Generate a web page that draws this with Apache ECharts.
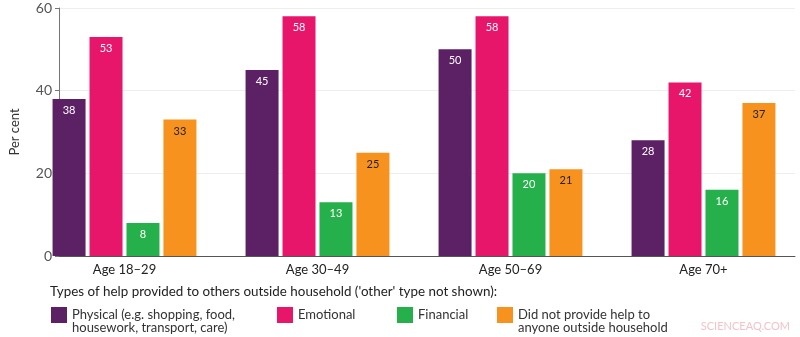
<!DOCTYPE html>
<html><head><meta charset="utf-8">
<script src="https://cdn.jsdelivr.net/npm/echarts@6/dist/echarts.min.js"></script>
<style>html,body{margin:0;padding:0;background:#fff}#c{width:800px;height:337px}</style>
</head><body><div id="c"></div>
<script>
const categories = ['Age 18–29', 'Age 30–49', 'Age 50–69', 'Age 70+'];
const physical = [38, 45, 50, 28];
const emotional = [53, 58, 58, 42];
const financial = [8, 13, 20, 16];
const noHelp = [33, 25, 21, 37];
const yTicks = [0, 20, 40, 60];
const seriesNames = ['Physical (e.g. shopping, food,', 'Emotional', 'Financial', 'Did not provide help to'];
const secondLines = ['housework, transport, care)', '', '', 'anyone outside household'];
const colors = ['#5c2165', '#e8166b', '#26b04b', '#f7921e'];
const labelColors = ['#fff', '#fff', '#fff', '#222'];
const values = [physical, emotional, financial, noHelp];
const legendLeft = [51, 277, 397, 497];

const FONT = 'Lato';
const chart = echarts.init(document.getElementById('c'));
const option = {
  animation: false,
  textStyle: { fontFamily: FONT },
  grid: [
    { left: 28, width: 782, top: 8, bottom: 81 },
    { left: 50, right: 5, top: 8, bottom: 81 }
  ],
  xAxis: [
    { type: 'category', gridIndex: 0, data: categories,
      axisLine: { show: false }, axisTick: { show: false },
      axisLabel: { color: '#222', fontSize: 13, margin: 7, fontFamily: FONT } },
    { type: 'category', gridIndex: 1, data: categories,
      axisLine: { show: true, lineStyle: { color: '#555', width: 1 } },
      axisTick: { show: false }, axisLabel: { show: false } }
  ],
  yAxis: [
    { type: 'value', gridIndex: 0, min: 0, max: 60, interval: 20, show: false },
    { type: 'value', gridIndex: 1, min: yTicks[0], max: yTicks[yTicks.length - 1], interval: 20,
      name: 'Per cent', nameLocation: 'middle', nameGap: 38, nameRotate: 90,
      nameTextStyle: { color: '#333', fontSize: 13, fontFamily: FONT },
      axisLine: { show: true, lineStyle: { color: '#777' } },
      axisTick: { show: true, length: 4, lineStyle: { color: '#777' } },
      axisLabel: { color: '#555', fontSize: 14, margin: 7, fontFamily: FONT },
      splitLine: { show: true, lineStyle: { color: '#eeeeee' } } }
  ],
  legend: seriesNames.map((n, i) => ({
    data: [n], left: legendLeft[i], top: 307, padding: 0, orient: 'horizontal',
    itemWidth: 16, itemHeight: 16, itemGap: 6, icon: 'rect',
    textStyle: { color: '#333', fontSize: 13, fontFamily: FONT }
  })),
  graphic: [
    { type: 'text', left: 50, top: 285,
      style: { text: "Types of help provided to others outside household ('other' type not shown):", fill: '#222', font: '13.4px ' + FONT } },
    { type: 'text', right: 10, top: 321,
      style: { text: 'SCIENCEAQ.COM', fill: '#f4c3c9', font: '11px ' + FONT } }
  ].concat(secondLines.map((t, i) => t ? {
    type: 'text', left: legendLeft[i] + 21, top: 321,
    style: { text: t, fill: '#333', font: '13px ' + FONT }
  } : null).filter(Boolean)),
  series: values.map((v, i) => ({
    name: seriesNames[i], type: 'bar', xAxisIndex: 0, yAxisIndex: 0, data: v,
    itemStyle: { color: colors[i] },
    barWidth: 33, barGap: '12%',
    label: { show: true, position: 'insideTop', distance: 6, color: labelColors[i], fontSize: 11, fontFamily: FONT }
  }))
};
chart.setOption(option);
</script></body></html>
